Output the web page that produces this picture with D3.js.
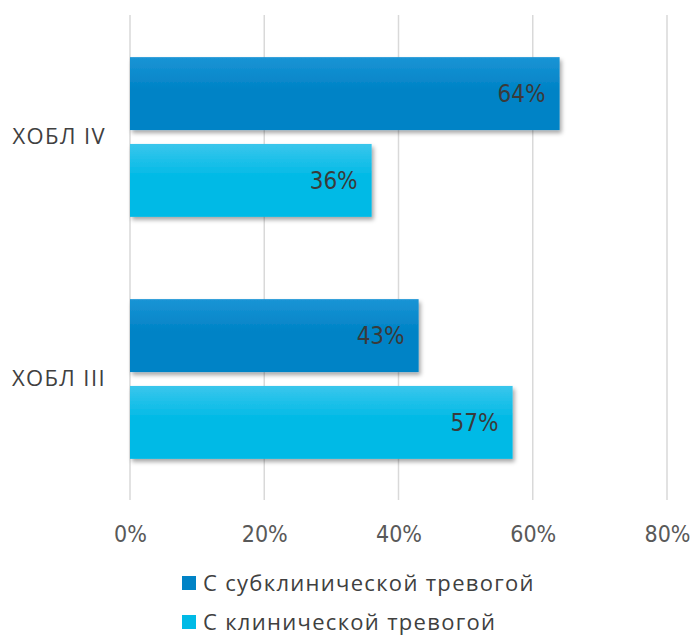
<!DOCTYPE html>
<html>
<head>
<meta charset="utf-8">
<script src="https://cdn.jsdelivr.net/npm/d3@7"></script>
<style>
  html, body { margin: 0; padding: 0; background: #fff; }
  svg { display: block; font-family: "Open Sans", "DejaVu Sans", sans-serif; }
  .num { font-family: "Liberation Sans Narrow", "Arial Narrow", "DejaVu Sans Condensed", sans-serif; }
</style>
</head>
<body>
<svg id="chart" width="690" height="637"></svg>
<script>
// Categories (top to bottom), series and values in percent
const categories = ["ХОБЛ IV", "ХОБЛ III"];
const seriesNames = ["С субклинической тревогой", "С клинической тревогой"];
const subclinical = [64, 43];
const clinical = [36, 57];
const xTicks = [0, 20, 40, 60, 80];

const colors = ["#0083c6", "#00bae6"];
const colorsTop = ["#1b94d5", "#3ac6ec"];

const svg = d3.select("#chart");
const margin = { left: 130, right: 23, top: 16, bottom: 137 };
const W = 690, H = 637;

const x = d3.scaleLinear().domain([0, 80]).range([margin.left, W - margin.right]);
const y = d3.scaleBand().domain(categories).range([margin.top, H - margin.bottom]).paddingInner(0.34).paddingOuter(0.17);
const y1 = d3.scaleBand().domain(seriesNames).range([0, y.bandwidth()]).paddingInner(0.16);

const defs = svg.append("defs");
colors.forEach((c, i) => {
  const g = defs.append("linearGradient").attr("id", "grad" + i)
    .attr("x1", 0).attr("y1", 0).attr("x2", 0).attr("y2", 1);
  g.append("stop").attr("offset", "0%").attr("stop-color", colorsTop[i]);
  g.append("stop").attr("offset", "45%").attr("stop-color", c);
  g.append("stop").attr("offset", "100%").attr("stop-color", c);
});
const f = defs.append("filter").attr("id", "shadow")
  .attr("x", "-5%").attr("y", "-10%").attr("width", "112%").attr("height", "135%");
f.append("feDropShadow").attr("dx", 2).attr("dy", 3).attr("stdDeviation", 2.2)
  .attr("flood-color", "#000").attr("flood-opacity", 0.35);

// Vertical gridlines
svg.append("g").selectAll("line").data(xTicks).join("line")
  .attr("x1", d => x(d)).attr("x2", d => x(d))
  .attr("y1", 15).attr("y2", 500)
  .attr("stroke", "#d9d9d9").attr("stroke-width", 1.5);

// X axis tick labels
const xAxis = d3.axisBottom(x).tickValues(xTicks).tickFormat(d => d + "%").tickSize(0).tickPadding(0);
const gx = svg.append("g").attr("transform", "translate(0,542)").call(xAxis);
gx.select(".domain").remove();
gx.selectAll("text").attr("class", "num").attr("font-size", 23).attr("fill", "#595959")
  .attr("font-family", null).attr("dy", 0).attr("y", 0);

// Y axis category labels
const yAxis = d3.axisLeft(y).tickSize(0).tickPadding(24);
const gy = svg.append("g").attr("transform", `translate(${margin.left},0)`).call(yAxis);
gy.select(".domain").remove();
gy.selectAll("text").attr("font-size", 22).attr("fill", "#404040")
  .attr("font-family", "'Open Sans', sans-serif").attr("letter-spacing", 1.4);

// Bars
const rows = categories.map((c, i) => ({ cat: c, vals: [subclinical[i], clinical[i]] }));
const groups = svg.append("g").selectAll("g").data(rows).join("g")
  .attr("transform", d => `translate(0,${y(d.cat)})`);

const bars = groups.selectAll("g.bar").data(d => d.vals.map((v, i) => ({ v, s: seriesNames[i], i })))
  .join("g").attr("class", "bar");

bars.append("rect")
  .attr("x", x(0)).attr("y", d => y1(d.s))
  .attr("width", d => x(d.v) - x(0)).attr("height", y1.bandwidth())
  .attr("fill", d => `url(#grad${d.i})`).attr("filter", "url(#shadow)");

bars.append("text").attr("class", "num")
  .attr("x", d => x(d.v) - 14).attr("y", d => y1(d.s) + y1.bandwidth() / 2)
  .attr("dy", "0.35em").attr("text-anchor", "end")
  .attr("font-size", 24).attr("fill", "#3a3a3a")
  .text(d => d.v + "%");

// Legend
const legend = svg.append("g").selectAll("g").data(seriesNames).join("g")
  .attr("transform", (d, i) => `translate(182,${583 + i * 39})`);
legend.append("rect").attr("x", 0).attr("y", -7).attr("width", 14).attr("height", 14)
  .attr("fill", (d, i) => colors[i]);
legend.append("text").attr("x", 21).attr("y", 0).attr("dy", "0.35em")
  .attr("font-size", 22).attr("fill", "#404040").attr("letter-spacing", 1.3)
  .attr("font-family", "'Open Sans', sans-serif")
  .text(d => d);
</script>
</body>
</html>
